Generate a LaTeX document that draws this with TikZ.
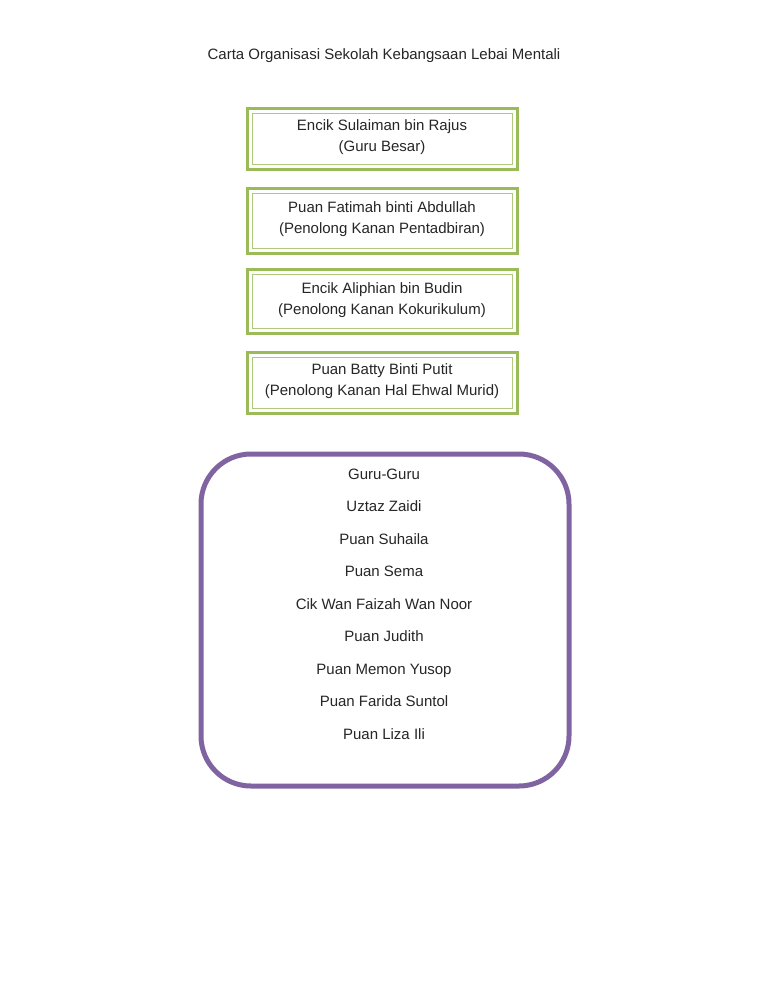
\documentclass[tikz,border=0pt]{standalone}
\usepackage{fontspec}
\setmainfont{Liberation Sans}
\definecolor{ogreen}{HTML}{9BBB59}
\definecolor{ipurple}{HTML}{8064A2}
\begin{document}
\begin{tikzpicture}[x=1pt,y=-1pt,
  txt/.style={font=\fontsize{15}{21}\selectfont,text=black!85,align=center,inner sep=0pt},
  ltxt/.style={txt,text height=11pt,text depth=3pt},
  ibox/.style={draw=ogreen!80,line width=0.8pt}]
\useasboundingbox (0,0) rectangle (768,994);
\fill[white] (0,0) rectangle (768,994);
\node[ltxt] (title) at (384,55) {Carta Organisasi Sekolah Kebangsaan Lebai Mentali};
\foreach \n/\ya/\yb/\t in {b1/108/169/{Encik Sulaiman bin Rajus\\(Guru Besar)},
  b2/188/253/{Puan Fatimah binti Abdullah\\(Penolong Kanan Pentadbiran)},
  b3/269/333/{Encik Aliphian bin Budin\\(Penolong Kanan Kokurikulum)},
  b4/352/413/{Puan Batty Binti Putit\\(Penolong Kanan Hal Ehwal Murid)}}{
  \draw[ogreen,line width=3pt] (247,\ya) rectangle (517,\yb);
  \draw[ibox] (252,\ya+5) rectangle (512,\yb-5);
  \node[txt] (\n) at (382,{(\ya+\yb)/2-1}) {\t};
}
\draw[ipurple,line width=5pt,rounded corners=50pt] (201,454) rectangle (569,786);
\foreach \n/\y/\t in {g0/475/Guru-Guru,g1/507/Uztaz Zaidi,g2/540/Puan Suhaila,g3/572/Puan Sema,
  g4/605/Cik Wan Faizah Wan Noor,g5/637/Puan Judith,g6/670/Puan Memon Yusop,g7/702/Puan Farida Suntol,g8/735/Puan Liza Ili}{
  \node[ltxt] (\n) at (384,\y) {\t};
}
\end{tikzpicture}
\end{document}
